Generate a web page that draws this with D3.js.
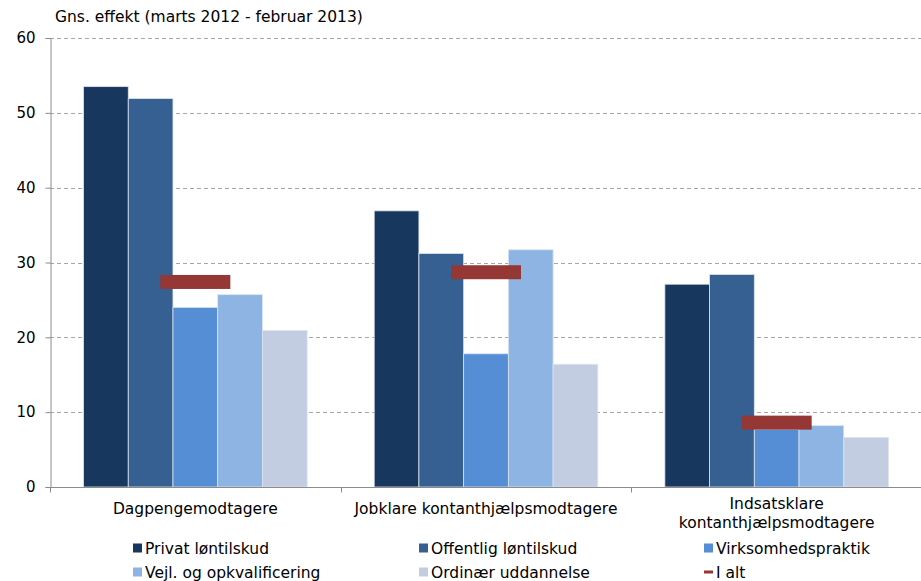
<!DOCTYPE html>
<html><head><meta charset="utf-8">
<script src="https://cdn.jsdelivr.net/npm/d3@7"></script>
<style>
body{margin:0;background:#fff;}
text{font-family:"DejaVu Sans",Verdana,sans-serif;fill:#000;}
</style></head>
<body><svg id="c" width="921" height="581"></svg>
<script>
const categories = [["Dagpengemodtagere"],["Jobklare kontanthjælpsmodtagere"],["Indsatsklare","kontanthjælpsmodtagere"]];
const seriesNames = ["Privat løntilskud","Offentlig løntilskud","Virksomhedspraktik","Vejl. og opkvalificering","Ordinær uddannelse"];
const privat = [53.5, 36.9, 27.1];
const offentlig = [51.9, 31.2, 28.4];
const virksomhed = [24.0, 17.8, 7.7];
const vejl = [25.7, 31.7, 8.2];
const ordinaer = [20.9, 16.4, 6.6];
const iAlt = [27.4, 28.7, 8.6];
const yTicks = [0,10,20,30,40,50,60];
const colors = ["#17375e","#366092","#558ed5","#8eb4e3","#c3cde2"];
const totalColor = "#953735";
const titleText = "Gns. effekt (marts 2012 - februar 2013)";

const series = [privat, offentlig, virksomhed, vejl, ordinaer];
const svg = d3.select("#c");
const mLeft = 50, mRight = 922, mTop = 38, mBottom = 487;
const x0 = d3.scaleBand().domain(d3.range(categories.length)).range([mLeft, mRight]).padding(0);
const x1 = d3.scaleBand().domain(d3.range(series.length)).range([0, x0.bandwidth()]).paddingOuter(0.75).paddingInner(0);
const y = d3.scaleLinear().domain([0,60]).range([mBottom, mTop]);
const fs = "15.5px";

// gridlines
svg.append("g").selectAll("line").data(yTicks.filter(d=>d>0)).join("line")
  .attr("x1", mLeft).attr("x2", mRight).attr("y1", d=>Math.round(y(d))+0.5).attr("y2", d=>Math.round(y(d))+0.5)
  .attr("stroke","#a6a6a6").attr("stroke-width",1).attr("stroke-dasharray","4,3");

// y axis
const yAxis = d3.axisLeft(y).tickValues(yTicks).tickSize(5).tickPadding(10);
const gy = svg.append("g").attr("transform",`translate(${mLeft+0.5},0)`).call(yAxis);
gy.select(".domain").attr("stroke","#8c8c8c");
gy.selectAll(".tick line").attr("stroke","#8c8c8c");
gy.selectAll(".tick text").attr("font-size","15px").attr("font-family","DejaVu Sans, sans-serif").attr("fill","#000");

// bars
categories.forEach((c, ci) => {
  series.forEach((s, si) => {
    svg.append("rect")
      .attr("x", x0(ci) + x1(si))
      .attr("y", y(s[ci]))
      .attr("width", x1.bandwidth())
      .attr("height", y(0) - y(s[ci]))
      .attr("fill", colors[si])
      .attr("stroke", "#dbe3ef").attr("stroke-width", 0.8);
  });
});

// I alt markers
const markW = 70, markH = 14;
svg.append("g").selectAll("rect").data(iAlt).join("rect")
  .attr("x", (d,i)=>x0(i)+x0.bandwidth()/2 - markW/2)
  .attr("y", d=>y(d)-markH/2)
  .attr("width", markW).attr("height", markH)
  .attr("fill", totalColor);

// x axis
const gx = svg.append("g").attr("transform",`translate(0,${mBottom+0.5})`);
gx.append("line").attr("x1",mLeft).attr("x2",mRight).attr("stroke","#8c8c8c");
const bounds = d3.range(categories.length+1).map(i=> mLeft + i*x0.bandwidth());
gx.selectAll("line.t").data(bounds).join("line").attr("class","t")
  .attr("x1",d=>Math.round(d)+0.5).attr("x2",d=>Math.round(d)+0.5).attr("y1",0).attr("y2",5).attr("stroke","#8c8c8c");

categories.forEach((lines, ci) => {
  const cx = x0(ci) + x0.bandwidth()/2;
  const y0 = lines.length > 1 ? 509 : 514;
  lines.forEach((l, li) => {
    svg.append("text").attr("x", cx).attr("y", y0 + li*19).attr("text-anchor","middle")
      .attr("font-size",fs).text(l);
  });
});

// title
svg.append("text").attr("x",55).attr("y",22).attr("font-size",fs).text(titleText);

// legend
const legendItems = seriesNames.map((n,i)=>({name:n,color:colors[i],type:"box"})).concat([{name:"I alt",color:totalColor,type:"line"}]);
const colX = [133, 419, 704], rowY = [548, 572];
legendItems.forEach((it, i) => {
  const cx = colX[i%3], cy = rowY[Math.floor(i/3)];
  if (it.type === "box") {
    svg.append("rect").attr("x", cx).attr("y", cy-4.5).attr("width", 9).attr("height", 9).attr("fill", it.color);
  } else {
    svg.append("rect").attr("x", cx).attr("y", cy-1.5).attr("width", 9).attr("height", 3).attr("fill", it.color);
  }
  svg.append("text").attr("x", cx+12).attr("y", cy+5.5).attr("font-size",fs).text(it.name);
});
</script></body></html>
